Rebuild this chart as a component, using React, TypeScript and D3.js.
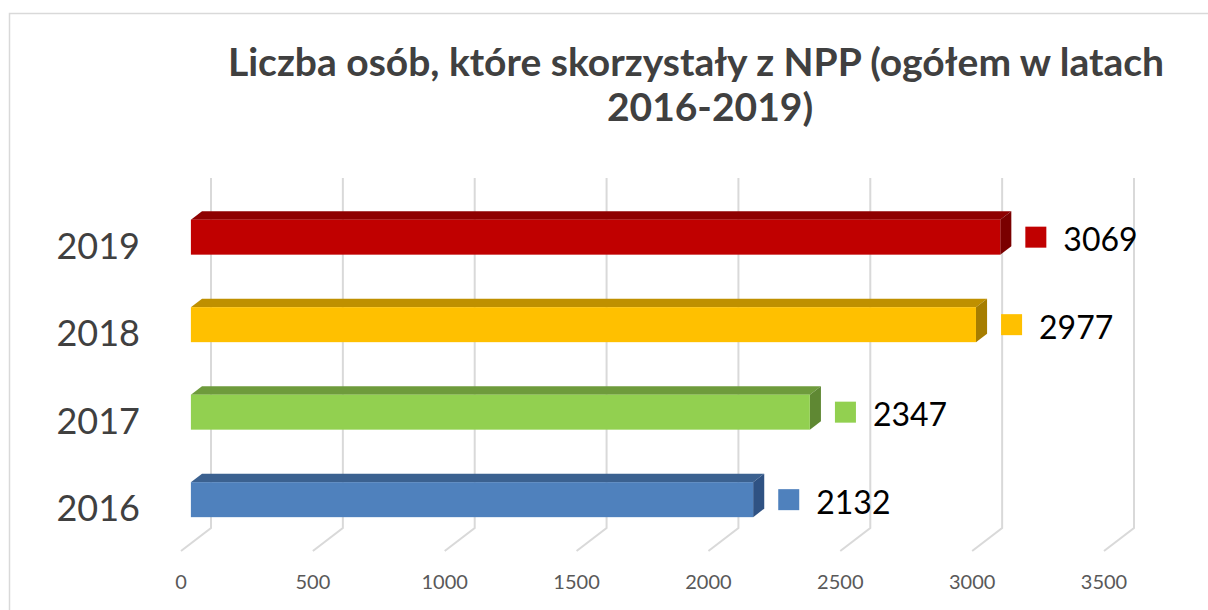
import React from "react";
import * as d3 from "d3";

const years = ["2019", "2018", "2017", "2016"];
const counts = [3069, 2977, 2347, 2132];
const faceColors = ["#C00000", "#FFC000", "#92D050", "#4F81BD"];
const topColors = ["#8E0000", "#BF9000", "#6E9B3C", "#3B6190"];
const sideColors = ["#7A0000", "#A67D00", "#5F8833", "#2F5283"];
const ticks = [0, 500, 1000, 1500, 2000, 2500, 3000, 3500];
const titleLines = ["Liczba osób, które skorzystały z NPP (ogółem w latach", "2016-2019)"];

const W = 1208;
const H = 610;
// depth of the 3D box (back plane offset)
const DX = 30;
const DY = -23;
const F0 = 0.33; // bar front depth
const F1 = 0.7; // bar back depth

const App = () => {
  const x = d3.scaleLinear().domain([0, 3500]).range([181, 1104]);
  const y = d3.scaleBand().domain(years).range([201, 551]).paddingInner(0).paddingOuter(0);
  const barH = y.bandwidth() * 0.4;
  const font = "Lato, 'Open Sans', sans-serif";

  const pts = (p: number[][]) => p.map((d) => d.join(",")).join(" ");

  return (
    <svg width={W} height={H} style={{ position: "absolute", left: 0, top: 0, background: "#fff" }}>
      <rect x={9.5} y={13.5} width={W} height={H} fill="#fff" stroke="#D9D9D9" strokeWidth={1.5} />

      {titleLines.map((t, i) => (
        <text
          key={i}
          x={i === 0 ? 696 : 710}
          y={i === 0 ? 76 : 121}
          textAnchor="middle"
          fontFamily={font}
          fontWeight="bold"
          fontSize={39}
          fill="#404040"
        >
          {t}
        </text>
      ))}

      {/* gridlines: back wall + floor */}
      <g stroke="#D9D9D9" strokeWidth={2} fill="none">
        {ticks.map((t) => (
          <polyline
            key={t}
            points={pts([
              [x(t) + DX, 178],
              [x(t) + DX, 551 + DY],
              [x(t), 551],
            ])}
          />
        ))}
      </g>

      {/* bars */}
      {years.map((yr, i) => {
        const cy = y(yr)! + y.bandwidth() / 2 + F0 * DY;
        const x0 = x(0) + F0 * DX;
        const x1 = x(counts[i]) + F0 * DX;
        const top = cy - barH / 2;
        const bot = cy + barH / 2;
        const ox = (F1 - F0) * DX;
        const oy = (F1 - F0) * DY;
        return (
          <g key={yr}>
            <polygon points={pts([[x0, top], [x0 + ox, top + oy], [x1 + ox, top + oy], [x1, top]])} fill={topColors[i]} />
            <polygon points={pts([[x1, top], [x1 + ox, top + oy], [x1 + ox, bot + oy], [x1, bot]])} fill={sideColors[i]} />
            <rect x={x0} y={top} width={x1 - x0} height={barH} fill={faceColors[i]} />
            <rect x={x1 + ox + 14} y={cy - 10.5} width={21} height={21} fill={faceColors[i]} />
            <text x={x1 + ox + 52} y={cy + 14} fontFamily={font} fontSize={32} fill="#000">
              {counts[i]}
            </text>
          </g>
        );
      })}

      {/* category labels */}
      {years.map((yr) => (
        <text
          key={yr}
          x={140}
          y={y(yr)! + y.bandwidth() / 2 + 14}
          textAnchor="end"
          fontFamily={font}
          fontSize={36}
          fill="#404040"
        >
          {yr}
        </text>
      ))}

      {/* value axis labels */}
      {ticks.map((t) => (
        <text key={t} x={x(t)} y={589} textAnchor="middle" fontFamily={font} fontSize={20} fill="#595959">
          {t}
        </text>
      ))}
    </svg>
  );
};

export default App;
